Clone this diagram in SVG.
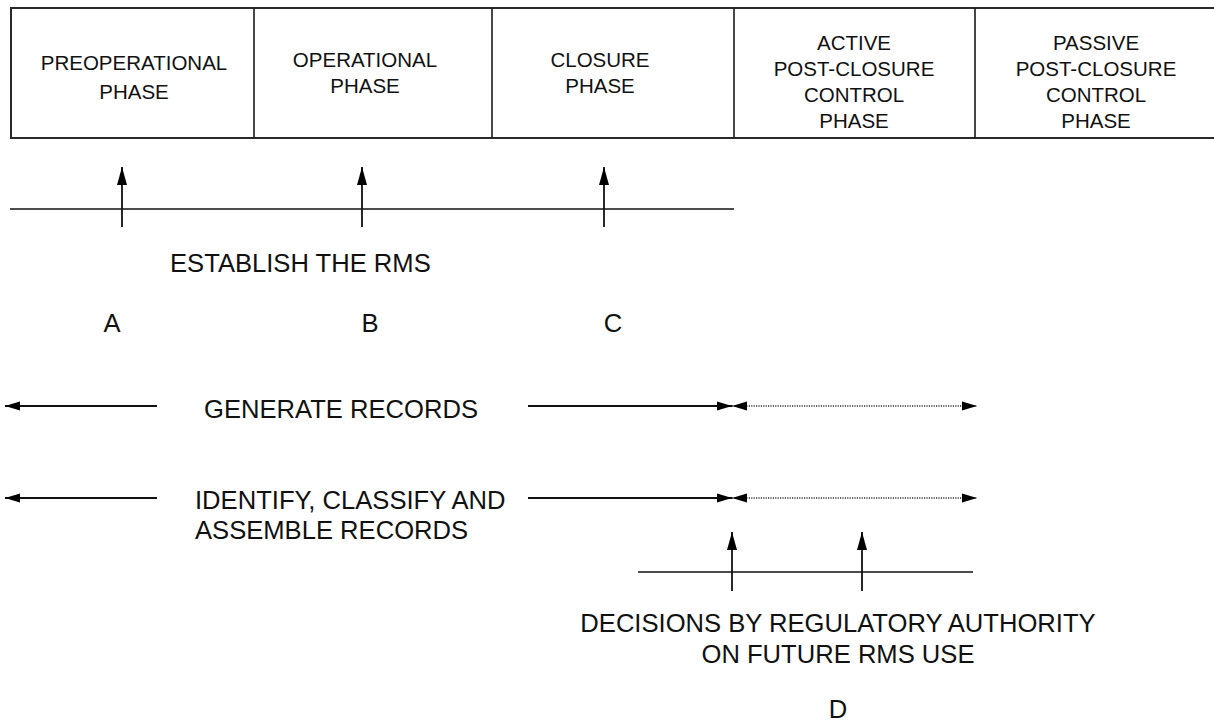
<svg xmlns="http://www.w3.org/2000/svg" width="1214" height="722" viewBox="0 0 1214 722">
  <style>
    .frame { fill: none; stroke: #2a2a2a; stroke-width: 2; }
    .divider { stroke: #1a1a1a; stroke-width: 1.6; }
    .phase { font-family: "Liberation Sans", Arial, sans-serif; font-size: 20.5px; fill: #111; text-anchor: middle; }
    .label { font-family: "Liberation Sans", Arial, sans-serif; font-size: 25.6px; fill: #111; }
    .mid { text-anchor: middle; }
    .rule { stroke: #111; stroke-width: 1.6; fill: none; }
    .conn { stroke: #111; stroke-width: 1.8; fill: none; }
    .future { stroke: #333; stroke-width: 1.6; stroke-dasharray: 1.2 1.2; fill: none; }
  </style>
  <defs>
    <marker id="tip" markerUnits="userSpaceOnUse" markerWidth="19" markerHeight="11" refX="18" refY="5.5" orient="auto-start-reverse">
      <path d="M0,0.5 L18,5.5 L0,10.5 Z" fill="#000"/>
    </marker>
    <marker id="tipH" markerUnits="userSpaceOnUse" markerWidth="16" markerHeight="10" refX="15" refY="5" orient="auto-start-reverse">
      <path d="M0,0.5 L15,5 L0,9.5 Z" fill="#000"/>
    </marker>
  </defs>

  <!-- phase strip -->
  <g id="phase-strip">
    <rect class="frame" x="11" y="8" width="1210" height="130"/>
    <line class="divider" x1="254" y1="8" x2="254" y2="138"/>
    <line class="divider" x1="492" y1="8" x2="492" y2="138"/>
    <line class="divider" x1="734" y1="8" x2="734" y2="138"/>
    <line class="divider" x1="975" y1="8" x2="975" y2="138"/>
  </g>
  <g id="preoperational">
    <text class="phase" x="134" y="70">PREOPERATIONAL</text>
    <text class="phase" x="134" y="99">PHASE</text>
  </g>
  <g id="operational">
    <text class="phase" x="365" y="67">OPERATIONAL</text>
    <text class="phase" x="365" y="93">PHASE</text>
  </g>
  <g id="closure">
    <text class="phase" x="600" y="67">CLOSURE</text>
    <text class="phase" x="600" y="93">PHASE</text>
  </g>
  <g id="active-post-closure">
    <text class="phase" x="854" y="50">ACTIVE</text>
    <text class="phase" x="854" y="76">POST-CLOSURE</text>
    <text class="phase" x="854" y="102">CONTROL</text>
    <text class="phase" x="854" y="128">PHASE</text>
  </g>
  <g id="passive-post-closure">
    <text class="phase" x="1096" y="50">PASSIVE</text>
    <text class="phase" x="1096" y="76">POST-CLOSURE</text>
    <text class="phase" x="1096" y="102">CONTROL</text>
    <text class="phase" x="1096" y="128">PHASE</text>
  </g>

  <!-- establishing the records management system -->
  <g id="establish">
    <line class="rule" x1="10" y1="209" x2="734" y2="209"/>
    <text class="label" x="170" y="272">ESTABLISH THE RMS</text>
  </g>
  <g id="milestone-a"><text class="label mid" x="112" y="332">A</text></g>
  <g id="milestone-b"><text class="label mid" x="370" y="332">B</text></g>
  <g id="milestone-c"><text class="label mid" x="613" y="332">C</text></g>

  <!-- record activities -->
  <g id="generate-records">
    <text class="label" x="204" y="418">GENERATE RECORDS</text>
  </g>
  <g id="identify-records">
    <text class="label" x="195" y="509">IDENTIFY, CLASSIFY AND</text>
    <text class="label" x="195" y="539">ASSEMBLE RECORDS</text>
  </g>

  <!-- regulatory decisions -->
  <g id="decisions">
    <line class="rule" x1="638" y1="572" x2="973" y2="572"/>
    <text class="label mid" x="838" y="632">DECISIONS BY REGULATORY AUTHORITY</text>
    <text class="label mid" x="838" y="663">ON FUTURE RMS USE</text>
  </g>
  <g id="milestone-d"><text class="label mid" x="838" y="718">D</text></g>

  <g id="connectors">
    <!-- milestone arrows on the establishing line -->
    <line class="conn" x1="122" y1="227" x2="122" y2="167" marker-end="url(#tip)"/>
    <line class="conn" x1="362" y1="227" x2="362" y2="167" marker-end="url(#tip)"/>
    <line class="conn" x1="604" y1="227" x2="604" y2="167" marker-end="url(#tip)"/>

    <!-- generate records span -->
    <line class="conn" x1="157" y1="406" x2="5" y2="406" marker-end="url(#tipH)"/>
    <line class="conn" x1="528" y1="406" x2="732" y2="406" marker-end="url(#tipH)"/>
    <line class="future" x1="732" y1="406" x2="977" y2="406" marker-start="url(#tipH)" marker-end="url(#tipH)"/>

    <!-- identify, classify and assemble span -->
    <line class="conn" x1="157" y1="498" x2="5" y2="498" marker-end="url(#tipH)"/>
    <line class="conn" x1="528" y1="498" x2="732" y2="498" marker-end="url(#tipH)"/>
    <line class="future" x1="732" y1="498" x2="977" y2="498" marker-start="url(#tipH)" marker-end="url(#tipH)"/>

    <!-- decision arrows -->
    <line class="conn" x1="732" y1="591" x2="732" y2="532" marker-end="url(#tip)"/>
    <line class="conn" x1="862" y1="591" x2="862" y2="532" marker-end="url(#tip)"/>
  </g>
</svg>
